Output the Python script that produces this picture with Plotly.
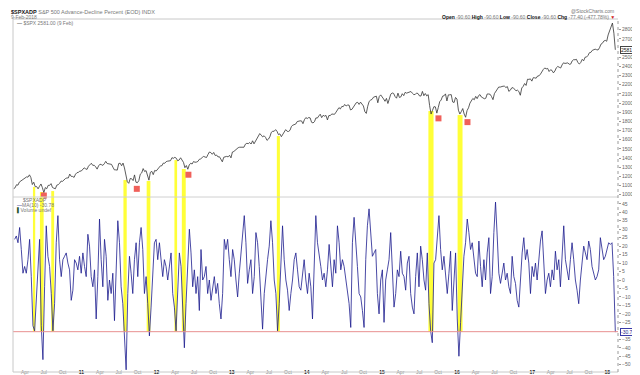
import pandas as pd
import plotly.graph_objects as go

# ---------------- DATA ----------------
spx_start = "2010-02-05"          # weekly (Friday) closes of $SPX
spx_close = [
    # 2010
    1066,1075,1109,1104, 1138,1150,1160,1167, 1179,1194,1192,1217,1187, 1111,1136,1087,1089,
    1064,1092,1117,1076, 1022,1078,1065,1102,1102, 1121,1079,1071,1065, 1104,1110,1125,1149,
    1146,1166,1176,1183,1183, 1225,1200,1199,1189, 1224,1240,1244,1257,1258,
    # 2011
    1272,1293,1283,1276, 1311,1329,1343,1320, 1321,1304,1279,1314, 1333,1328,1320,1338,1364,
    1340,1338,1333,1331, 1300,1271,1271,1268, 1340,1344,1316,1345,1292, 1199,1140,1124,1177,
    1174,1154,1216,1136,1131, 1155,1224,1238,1285, 1253,1263,1216,1159, 1244,1255,1219,1265,1258,
    # 2012
    1278,1289,1315,1316, 1345,1343,1361,1366, 1370,1371,1404,1397,1408, 1398,1370,1379,1403,
    1369,1353,1295,1318, 1278,1325,1343,1335,1362, 1354,1356,1363,1386, 1391,1406,1418,1411,1406,
    1438,1466,1460,1441, 1461,1428,1433,1412, 1414,1380,1359,1409,1416, 1418,1413,1430,1402,
    # 2013
    1466,1472,1486,1503, 1513,1518,1520,1515, 1518,1551,1561,1557,1569, 1553,1588,1555,1582,
    1614,1633,1667,1650,1631, 1643,1626,1593,1606, 1632,1680,1692,1692, 1710,1691,1655,1664,1633,
    1655,1688,1710,1692, 1690,1703,1745,1759, 1762,1771,1798,1804,1806, 1805,1775,1818,1841,
    # 2014
    1831,1842,1838,1790,1783, 1797,1838,1836,1859, 1878,1841,1866,1857, 1865,1816,1864,1863,
    1881,1878,1878,1901,1924, 1950,1936,1963,1961, 1985,1968,1978,1978, 1925,1931,1955,1988,2003,
    2008,1985,2010,1982, 1968,1906,1887,1965,2018, 2032,2040,2064,2068, 2075,2003,2071,2089,
    # 2015
    2058,2045,2019,2051,1995, 2055,2097,2110,2105, 2071,2053,2108,2061, 2067,2102,2081,2117,
    2108,2116,2123,2126,2107, 2092,2094,2110,2102, 2077,2077,2127,2080,2104, 2078,2092,1971,1880,
    1921,1961,1958,1890, 1951,2015,2033,2075,2079, 2100,2023,2089,2090, 2092,2012,2006,2061,
    # 2016
    2044,1922,1880,1907,1940, 1880,1845,1918,1948, 1999,2022,2050,2036, 2073,2048,2081,2092,2065,
    2057,2047,2052,2099, 2099,2096,2071,2037, 2103,2130,2162,2175,2174, 2183,2184,2184,2169,
    2180,2128,2139,2165,2168, 2153,2133,2141,2126, 2085,2164,2182,2213, 2192,2260,2258,2264,2239,
    # 2017
    2277,2275,2271,2295, 2297,2316,2351,2367, 2383,2373,2378,2344,2363, 2356,2329,2349,2384,
    2399,2391,2382,2416, 2439,2432,2433,2438,2423, 2425,2459,2473,2472, 2477,2441,2426,2443,
    2477,2461,2500,2502,2519, 2549,2553,2575,2581, 2588,2582,2579,2603, 2642,2652,2676,2684,2674,
    # 2018
    2743,2786,2810,2873,2762,2581,
]

adp_start = "2010-02-10"          # evenly sampled readings of $SPXADP MA(10)
adp_end = "2018-02-09"
adp_ma10 = [
    24,26,22,31,18,4,8,4,12,24,2,-27,-30,-12,2,24,-27,-47,-4,32,
    14,8,-8,-30,-14,22,38,12,2,12,14,16,10,6,-12,-6,12,10,6,14,
    4,16,8,2,27,20,2,-4,6,-23,2,36,12,-4,24,14,-12,0,-8,4,
    -24,12,35,22,-4,-14,-31,-53,-8,14,4,-8,12,22,2,22,31,18,-8,2,
    -14,-33,-16,4,22,24,12,22,10,2,12,8,0,7,16,-8,-16,-30,-4,16,
    8,-21,-40,-14,12,30,16,-4,6,-8,2,-18,18,0,2,8,-8,0,-12,-4,
    2,-8,-2,-14,-23,-8,24,18,24,12,2,18,12,0,-10,4,16,24,38,22,
    -2,6,12,-8,2,28,22,8,-8,-29,-8,4,12,20,35,22,0,-8,-30,-14,
    6,32,12,0,-6,-18,-8,0,12,16,6,-4,-6,2,12,0,-8,4,-4,-23,
    8,38,22,16,8,0,4,-4,6,
    21,8,-4,12,4,32,22,6,12,8,0,-6,-14,-28,22,37,24,8,-8,-10,
    -18,-28,12,32,42,30,14,16,18,-8,-20,0,6,-25,0,6,12,28,6,-16,
    -8,6,2,17,4,2,-6,10,14,-8,-16,-20,2,16,-4,20,12,0,-6,16,
    -14,-30,-37,10,12,24,38,18,6,14,0,-8,4,17,-18,-4,16,-23,-45,-25,
    -8,14,22,36,28,18,22,12,4,2,23,8,-4,12,0,16,25,-8,2,28,
    46,26,4,-2,4,10,0,4,-4,-8,14,2,-2,-12,-16,4,16,25,12,18,
    10,-8,8,2,10,0,12,23,29,12,-8,0,4,-4,6,0,17,6,12,-4,
    16,32,12,6,0,12,22,12,0,-6,-14,0,12,20,16,12,23,18,8,4,
    0,2,6,25,18,12,14,18,22,21,22,2,-30.78,
]

band_start = ["2010-05-10","2010-06-13","2010-08-07","2011-07-24","2011-11-14",
              "2012-03-28","2012-05-03","2013-08-08","2015-08-15","2016-01-04"]
band_end   = ["2010-05-21","2010-07-01","2010-08-21","2011-08-09","2011-12-02",
              "2012-04-10","2012-05-22","2013-08-23","2015-09-09","2016-01-28"]
band_top   = [1084, 1029, 1040, 1160, 1150, 1378, 1280, 1640, 1913, 1869]

signal_dates  = ["2010-07-02","2011-09-27","2012-06-04","2015-10-03","2016-02-21"]
signal_prices = [991, 1064, 1218, 1833, 1792]

threshold = -30.5
price_ticks = [v for v in range(1000, 2900, 100) if v != 2600]
adp_ticks = [v for v in range(-50, 50, 5) if v != -30]

# ---------------- FIGURE ----------------
W, H = 640, 375
ML, MR, MT, MB = 5, 30, 11, 11
PW, PH = W - ML - MR, H - MT - MB
SPLIT = (H - MB - 189) / PH          # panel divider (fraction from bottom)

P_RANGE = [975, 2917]
A_RANGE = [-54.3, 49.0]
X_RANGE = ["2010-02-02", "2018-02-22"]

def fx(px):
    return (px - ML) / PW

def fy(py):
    return (H - MB - py) / PH

spx_dates = pd.date_range(start=spx_start, periods=len(spx_close), freq="W-FRI")
adp_dates = pd.date_range(start=adp_start, end=adp_end, periods=len(adp_ma10))

# x ticks: quarterly
qdates = pd.date_range("2010-04-01", "2018-01-01", freq="QS-JAN")
tick_text = []
for d in qdates:
    if d.month == 1:
        tick_text.append("<b>%02d</b>" % (d.year % 100))
    else:
        tick_text.append("<span style='color:#8a8a8a'>%s</span>" % d.strftime("%b"))

FONT = "Liberation Sans, Arial, sans-serif"

fig = go.Figure()

fig.add_trace(go.Scatter(x=spx_dates, y=spx_close, mode="lines",
                         line=dict(color="#333333", width=0.8),
                         xaxis="x", yaxis="y", hoverinfo="skip"))
fig.add_trace(go.Scatter(x=pd.to_datetime(signal_dates), y=signal_prices, mode="markers",
                         marker=dict(symbol="square", size=6, color="#f0605a",
                                     line=dict(width=0)),
                         xaxis="x", yaxis="y", cliponaxis=False, hoverinfo="skip"))
fig.add_trace(go.Scatter(x=adp_dates, y=adp_ma10, mode="lines",
                         line=dict(color="#1c1c8e", width=0.8),
                         xaxis="x2", yaxis="y2", hoverinfo="skip"))

shapes = []
for s, e, t in zip(band_start, band_end, band_top):
    shapes.append(dict(type="rect", xref="x", yref="y", x0=s, x1=e, y0=P_RANGE[0], y1=t,
                       fillcolor="#ffff38", line=dict(width=0), layer="below"))
    shapes.append(dict(type="rect", xref="x2", yref="y2", x0=s, x1=e, y0=threshold,
                       y1=A_RANGE[1], fillcolor="#ffff38", line=dict(width=0), layer="below"))
# threshold line
shapes.append(dict(type="line", xref="paper", yref="y2", x0=0, x1=1, y0=threshold,
                   y1=threshold, line=dict(color="#e89090", width=1)))
# frame
shapes.append(dict(type="line", xref="paper", yref="paper", x0=0, x1=1, y0=SPLIT, y1=SPLIT,
                   line=dict(color="#d0d0d0", width=1)))
shapes.append(dict(type="line", xref="paper", yref="paper", x0=0, x1=1, y0=1, y1=1,
                   line=dict(color="#c8c8c8", width=1)))
shapes.append(dict(type="line", xref="paper", yref="paper", x0=0, x1=1, y0=0, y1=0,
                   line=dict(color="#c8c8c8", width=1)))
shapes.append(dict(type="line", xref="paper", yref="paper", x0=0, x1=0, y0=0, y1=1,
                   line=dict(color="#c8c8c8", width=1)))
shapes.append(dict(type="line", xref="paper", yref="paper", x0=1, x1=1, y0=0, y1=1,
                   line=dict(color="#9a9a9a", width=1, dash="dot")))

small = dict(family=FONT, size=5, color="#777777")
ann = []
ann.append(dict(xref="paper", yref="paper", x=fx(1), y=fy(4), xanchor="left", yanchor="middle",
                showarrow=False,
                text="<b>$SPXADP</b> <span style='color:#777'>S&P 500 Advance-Decline Percent (EOD) INDX</span>",
                font=dict(family=FONT, size=5.5, color="#111")))
ann.append(dict(xref="paper", yref="paper", x=fx(1), y=fy(9.5), xanchor="left", yanchor="middle",
                showarrow=False, text="9-Feb-2018", font=small))
ann.append(dict(xref="paper", yref="paper", x=fx(7), y=fy(15.5), xanchor="left", yanchor="middle",
                showarrow=False, text="<span style='color:#222'>\u2014</span> $SPX 2581.00 (9 Feb)",
                font=small))
ann.append(dict(xref="paper", yref="paper", x=fx(608), y=fy(3.5), xanchor="right",
                yanchor="middle", showarrow=False, text="@StockCharts.com", font=small))
ann.append(dict(xref="paper", yref="paper", x=fx(609), y=fy(9.5), xanchor="right",
                yanchor="middle", showarrow=False,
                text=("<b style='color:#111'>Open</b> -90.60 <b style='color:#111'>High</b> -90.60 "
                      "<b style='color:#111'>Low</b> -90.60 <b style='color:#111'>Close</b> -90.60 "
                      "<b style='color:#111'>Chg</b> -77.40 (-477.78%) "
                      "<span style='color:#d02020'>\u25bc</span>"),
                font=small))
ann.append(dict(xref="paper", yref="paper", x=fx(13), y=fy(191.5), xanchor="left",
                yanchor="middle", showarrow=False, text="$SPXADP", font=small))
ann.append(dict(xref="paper", yref="paper", x=fx(7), y=fy(197), xanchor="left",
                yanchor="middle", showarrow=False,
                text="<span style='color:#1c1c8e'>\u2014</span>MA(10) -30.78", font=small))
ann.append(dict(xref="paper", yref="paper", x=fx(7), y=fy(202.5), xanchor="left",
                yanchor="middle", showarrow=False,
                text="<span style='color:#2a5a2a'>\u258c</span>Volume undef", font=small))
# last value boxes
ann.append(dict(xref="paper", yref="y", x=1.003, y=spx_close[-1], xanchor="left",
                yanchor="middle", showarrow=False, text="%.2f" % spx_close[-1],
                font=dict(family=FONT, size=5, color="#111"), bgcolor="white",
                bordercolor="#444", borderwidth=1, borderpad=0))
ann.append(dict(xref="paper", yref="y2", x=1.003, y=adp_ma10[-1], xanchor="left",
                yanchor="middle", showarrow=False, text="%.2f" % adp_ma10[-1],
                font=dict(family=FONT, size=5, color="#1c1c8e"), bgcolor="white",
                bordercolor="#3a3aa8", borderwidth=1, borderpad=0))

axis_common = dict(showgrid=False, zeroline=False, showline=False, fixedrange=True)

fig.update_layout(
    width=W, height=H,
    margin=dict(l=ML, r=MR, t=MT, b=MB),
    paper_bgcolor="white", plot_bgcolor="white",
    showlegend=False,
    font=dict(family=FONT, size=5, color="#666"),
    xaxis=dict(domain=[0, 1], anchor="y", range=X_RANGE, type="date",
               showticklabels=False, ticks="", **axis_common),
    yaxis=dict(domain=[SPLIT, 1], anchor="x", side="right", range=P_RANGE,
               tickvals=price_ticks, ticks="outside", ticklen=2, tickcolor="#999",
               tickfont=dict(family=FONT, size=5, color="#666"), **axis_common),
    xaxis2=dict(domain=[0, 1], anchor="y2", range=X_RANGE, type="date",
                tickvals=qdates, ticktext=tick_text, ticks="", ticklabelstandoff=-4,
                tickfont=dict(family=FONT, size=5, color="#111"), **axis_common),
    yaxis2=dict(domain=[0, SPLIT], anchor="x2", side="right", range=A_RANGE,
                tickvals=adp_ticks, ticks="outside", ticklen=2, tickcolor="#999",
                tickfont=dict(family=FONT, size=5, color="#666"), **axis_common),
    shapes=shapes,
    annotations=ann,
)

fig.write_html("out.html")
